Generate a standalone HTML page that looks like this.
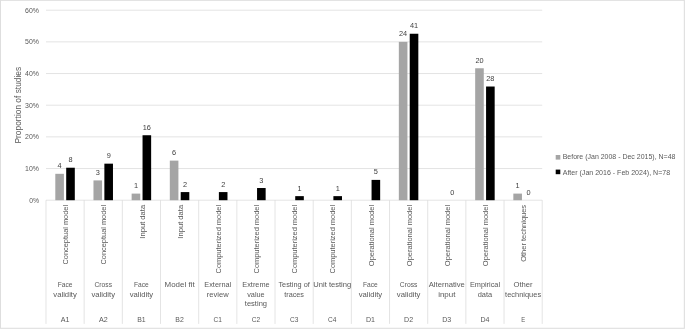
<!DOCTYPE html>
<html lang="en"><head><meta charset="utf-8"><title>Proportion of studies by validation technique</title>
<style>html,body{margin:0;padding:0;background:#fff}body{width:685px;height:329px;overflow:hidden}svg{display:block}text{font-family:"Liberation Sans",sans-serif}</style></head><body>
<svg width="685" height="329" viewBox="0 0 685 329">
<rect x="0" y="0" width="685" height="329" fill="#fff"/>
<rect x="0.45" y="0.3" width="683.9" height="328.0" fill="none" stroke="#dedede" stroke-width="1.1"/>
<g stroke="#d9d9d9" stroke-width="0.7" fill="none">
<line x1="46.00" y1="200.20" x2="542.21" y2="200.20"/>
<line x1="46.00" y1="168.53" x2="542.21" y2="168.53"/>
<line x1="46.00" y1="136.87" x2="542.21" y2="136.87"/>
<line x1="46.00" y1="105.20" x2="542.21" y2="105.20"/>
<line x1="46.00" y1="73.53" x2="542.21" y2="73.53"/>
<line x1="46.00" y1="41.87" x2="542.21" y2="41.87"/>
<line x1="46.00" y1="10.20" x2="542.21" y2="10.20"/>
<line x1="46.00" y1="200.20" x2="46.00" y2="323.9"/>
<line x1="84.17" y1="200.20" x2="84.17" y2="323.9"/>
<line x1="122.34" y1="200.20" x2="122.34" y2="323.9"/>
<line x1="160.51" y1="200.20" x2="160.51" y2="323.9"/>
<line x1="198.68" y1="200.20" x2="198.68" y2="323.9"/>
<line x1="236.85" y1="200.20" x2="236.85" y2="323.9"/>
<line x1="275.02" y1="200.20" x2="275.02" y2="323.9"/>
<line x1="313.19" y1="200.20" x2="313.19" y2="323.9"/>
<line x1="351.36" y1="200.20" x2="351.36" y2="323.9"/>
<line x1="389.53" y1="200.20" x2="389.53" y2="323.9"/>
<line x1="427.70" y1="200.20" x2="427.70" y2="323.9"/>
<line x1="465.87" y1="200.20" x2="465.87" y2="323.9"/>
<line x1="504.04" y1="200.20" x2="504.04" y2="323.9"/>
<line x1="542.21" y1="200.20" x2="542.21" y2="323.9"/>
</g>
<rect x="55.30" y="173.81" width="8.60" height="26.39" fill="#a5a5a5"/>
<rect x="66.20" y="167.72" width="8.60" height="32.48" fill="#000"/>
<rect x="93.47" y="180.41" width="8.60" height="19.79" fill="#a5a5a5"/>
<rect x="104.37" y="163.66" width="8.60" height="36.54" fill="#000"/>
<rect x="131.64" y="193.60" width="8.60" height="6.60" fill="#a5a5a5"/>
<rect x="142.54" y="135.24" width="8.60" height="64.96" fill="#000"/>
<rect x="169.81" y="160.62" width="8.60" height="39.58" fill="#a5a5a5"/>
<rect x="180.71" y="192.08" width="8.60" height="8.12" fill="#000"/>
<rect x="218.88" y="192.08" width="8.60" height="8.12" fill="#000"/>
<rect x="257.05" y="188.02" width="8.60" height="12.18" fill="#000"/>
<rect x="295.22" y="196.14" width="8.60" height="4.06" fill="#000"/>
<rect x="333.39" y="196.14" width="8.60" height="4.06" fill="#000"/>
<rect x="371.56" y="179.90" width="8.60" height="20.30" fill="#000"/>
<rect x="398.83" y="41.87" width="8.60" height="158.33" fill="#a5a5a5"/>
<rect x="409.73" y="33.75" width="8.60" height="166.45" fill="#000"/>
<rect x="475.17" y="68.26" width="8.60" height="131.94" fill="#a5a5a5"/>
<rect x="486.07" y="86.52" width="8.60" height="113.68" fill="#000"/>
<rect x="513.34" y="193.60" width="8.60" height="6.60" fill="#a5a5a5"/>
<text x="59.60" y="168.31" font-size="7.5" text-anchor="middle" fill="#404040" textLength="4.09" lengthAdjust="spacingAndGlyphs">4</text>
<text x="70.50" y="162.22" font-size="7.5" text-anchor="middle" fill="#404040" textLength="4.09" lengthAdjust="spacingAndGlyphs">8</text>
<text x="97.77" y="174.91" font-size="7.5" text-anchor="middle" fill="#404040" textLength="4.09" lengthAdjust="spacingAndGlyphs">3</text>
<text x="108.67" y="158.16" font-size="7.5" text-anchor="middle" fill="#404040" textLength="4.09" lengthAdjust="spacingAndGlyphs">9</text>
<text x="135.94" y="188.10" font-size="7.5" text-anchor="middle" fill="#404040" textLength="4.09" lengthAdjust="spacingAndGlyphs">1</text>
<text x="146.84" y="129.74" font-size="7.5" text-anchor="middle" fill="#404040" textLength="8.17" lengthAdjust="spacingAndGlyphs">16</text>
<text x="174.11" y="155.12" font-size="7.5" text-anchor="middle" fill="#404040" textLength="4.09" lengthAdjust="spacingAndGlyphs">6</text>
<text x="185.01" y="186.58" font-size="7.5" text-anchor="middle" fill="#404040" textLength="4.09" lengthAdjust="spacingAndGlyphs">2</text>
<text x="223.18" y="186.58" font-size="7.5" text-anchor="middle" fill="#404040" textLength="4.09" lengthAdjust="spacingAndGlyphs">2</text>
<text x="261.35" y="182.52" font-size="7.5" text-anchor="middle" fill="#404040" textLength="4.09" lengthAdjust="spacingAndGlyphs">3</text>
<text x="299.52" y="190.64" font-size="7.5" text-anchor="middle" fill="#404040" textLength="4.09" lengthAdjust="spacingAndGlyphs">1</text>
<text x="337.69" y="190.64" font-size="7.5" text-anchor="middle" fill="#404040" textLength="4.09" lengthAdjust="spacingAndGlyphs">1</text>
<text x="375.86" y="174.40" font-size="7.5" text-anchor="middle" fill="#404040" textLength="4.09" lengthAdjust="spacingAndGlyphs">5</text>
<text x="403.13" y="36.37" font-size="7.5" text-anchor="middle" fill="#404040" textLength="8.17" lengthAdjust="spacingAndGlyphs">24</text>
<text x="414.03" y="28.25" font-size="7.5" text-anchor="middle" fill="#404040" textLength="8.17" lengthAdjust="spacingAndGlyphs">41</text>
<text x="452.20" y="194.70" font-size="7.5" text-anchor="middle" fill="#404040" textLength="4.09" lengthAdjust="spacingAndGlyphs">0</text>
<text x="479.47" y="62.76" font-size="7.5" text-anchor="middle" fill="#404040" textLength="8.17" lengthAdjust="spacingAndGlyphs">20</text>
<text x="490.37" y="81.02" font-size="7.5" text-anchor="middle" fill="#404040" textLength="8.17" lengthAdjust="spacingAndGlyphs">28</text>
<text x="517.64" y="188.10" font-size="7.5" text-anchor="middle" fill="#404040" textLength="4.09" lengthAdjust="spacingAndGlyphs">1</text>
<text x="528.54" y="194.70" font-size="7.5" text-anchor="middle" fill="#404040" textLength="4.09" lengthAdjust="spacingAndGlyphs">0</text>
<text x="39.00" y="202.55" font-size="7.25" text-anchor="end" fill="#595959" textLength="9.85" lengthAdjust="spacingAndGlyphs">0%</text>
<text x="39.00" y="170.88" font-size="7.25" text-anchor="end" fill="#595959" textLength="13.93" lengthAdjust="spacingAndGlyphs">10%</text>
<text x="39.00" y="139.22" font-size="7.25" text-anchor="end" fill="#595959" textLength="13.93" lengthAdjust="spacingAndGlyphs">20%</text>
<text x="39.00" y="107.55" font-size="7.25" text-anchor="end" fill="#595959" textLength="13.93" lengthAdjust="spacingAndGlyphs">30%</text>
<text x="39.00" y="75.88" font-size="7.25" text-anchor="end" fill="#595959" textLength="13.93" lengthAdjust="spacingAndGlyphs">40%</text>
<text x="39.00" y="44.22" font-size="7.25" text-anchor="end" fill="#595959" textLength="13.93" lengthAdjust="spacingAndGlyphs">50%</text>
<text x="39.00" y="12.55" font-size="7.25" text-anchor="end" fill="#595959" textLength="13.93" lengthAdjust="spacingAndGlyphs">60%</text>
<text transform="translate(20.7,105.2) rotate(-90)" font-size="8.9" text-anchor="middle" fill="#595959" textLength="76.66" lengthAdjust="spacingAndGlyphs">Proportion of studies</text>
<text transform="translate(68.29,204.9) rotate(-90)" font-size="7.7" text-anchor="end" fill="#595959" textLength="59.65" lengthAdjust="spacingAndGlyphs">Conceptual model</text>
<text x="65.09" y="287.20" font-size="7.25" text-anchor="middle" fill="#595959" textLength="14.77" lengthAdjust="spacingAndGlyphs">Face</text>
<text x="65.09" y="296.75" font-size="7.25" text-anchor="middle" fill="#595959" textLength="23.52" lengthAdjust="spacingAndGlyphs">validity</text>
<text x="65.09" y="321.90" font-size="7.25" text-anchor="middle" fill="#595959" textLength="8.75" lengthAdjust="spacingAndGlyphs">A1</text>
<text transform="translate(106.45,204.9) rotate(-90)" font-size="7.7" text-anchor="end" fill="#595959" textLength="59.65" lengthAdjust="spacingAndGlyphs">Conceptual model</text>
<text x="103.25" y="287.20" font-size="7.25" text-anchor="middle" fill="#595959" textLength="17.53" lengthAdjust="spacingAndGlyphs">Cross</text>
<text x="103.25" y="296.75" font-size="7.25" text-anchor="middle" fill="#595959" textLength="23.52" lengthAdjust="spacingAndGlyphs">validity</text>
<text x="103.25" y="321.90" font-size="7.25" text-anchor="middle" fill="#595959" textLength="8.75" lengthAdjust="spacingAndGlyphs">A2</text>
<text transform="translate(144.62,204.9) rotate(-90)" font-size="7.7" text-anchor="end" fill="#595959" textLength="33.74" lengthAdjust="spacingAndGlyphs">Input data</text>
<text x="141.43" y="287.20" font-size="7.25" text-anchor="middle" fill="#595959" textLength="14.77" lengthAdjust="spacingAndGlyphs">Face</text>
<text x="141.43" y="296.75" font-size="7.25" text-anchor="middle" fill="#595959" textLength="23.52" lengthAdjust="spacingAndGlyphs">validity</text>
<text x="141.43" y="321.90" font-size="7.25" text-anchor="middle" fill="#595959" textLength="8.47" lengthAdjust="spacingAndGlyphs">B1</text>
<text transform="translate(182.79,204.9) rotate(-90)" font-size="7.7" text-anchor="end" fill="#595959" textLength="33.74" lengthAdjust="spacingAndGlyphs">Input data</text>
<text x="179.59" y="287.20" font-size="7.25" text-anchor="middle" fill="#595959" textLength="30.02" lengthAdjust="spacingAndGlyphs">Model fit</text>
<text x="179.59" y="321.90" font-size="7.25" text-anchor="middle" fill="#595959" textLength="8.47" lengthAdjust="spacingAndGlyphs">B2</text>
<text transform="translate(220.97,204.9) rotate(-90)" font-size="7.7" text-anchor="end" fill="#595959" textLength="68.59" lengthAdjust="spacingAndGlyphs">Computerized model</text>
<text x="217.77" y="287.20" font-size="7.25" text-anchor="middle" fill="#595959" textLength="26.83" lengthAdjust="spacingAndGlyphs">External</text>
<text x="217.77" y="296.75" font-size="7.25" text-anchor="middle" fill="#595959" textLength="21.90" lengthAdjust="spacingAndGlyphs">review</text>
<text x="217.77" y="321.90" font-size="7.25" text-anchor="middle" fill="#595959" textLength="8.38" lengthAdjust="spacingAndGlyphs">C1</text>
<text transform="translate(259.13,204.9) rotate(-90)" font-size="7.7" text-anchor="end" fill="#595959" textLength="68.59" lengthAdjust="spacingAndGlyphs">Computerized model</text>
<text x="255.94" y="287.20" font-size="7.25" text-anchor="middle" fill="#595959" textLength="27.31" lengthAdjust="spacingAndGlyphs">Extreme</text>
<text x="255.94" y="296.75" font-size="7.25" text-anchor="middle" fill="#595959" textLength="17.48" lengthAdjust="spacingAndGlyphs">value</text>
<text x="255.94" y="306.30" font-size="7.25" text-anchor="middle" fill="#595959" textLength="22.20" lengthAdjust="spacingAndGlyphs">testing</text>
<text x="255.94" y="321.90" font-size="7.25" text-anchor="middle" fill="#595959" textLength="8.38" lengthAdjust="spacingAndGlyphs">C2</text>
<text transform="translate(297.31,204.9) rotate(-90)" font-size="7.7" text-anchor="end" fill="#595959" textLength="68.59" lengthAdjust="spacingAndGlyphs">Computerized model</text>
<text x="294.11" y="287.20" font-size="7.25" text-anchor="middle" fill="#595959" textLength="31.33" lengthAdjust="spacingAndGlyphs">Testing of</text>
<text x="294.11" y="296.75" font-size="7.25" text-anchor="middle" fill="#595959" textLength="19.78" lengthAdjust="spacingAndGlyphs">traces</text>
<text x="294.11" y="321.90" font-size="7.25" text-anchor="middle" fill="#595959" textLength="8.38" lengthAdjust="spacingAndGlyphs">C3</text>
<text transform="translate(335.48,204.9) rotate(-90)" font-size="7.7" text-anchor="end" fill="#595959" textLength="68.59" lengthAdjust="spacingAndGlyphs">Computerized model</text>
<text x="332.28" y="287.20" font-size="7.25" text-anchor="middle" fill="#595959" textLength="37.98" lengthAdjust="spacingAndGlyphs">Unit testing</text>
<text x="332.28" y="321.90" font-size="7.25" text-anchor="middle" fill="#595959" textLength="8.38" lengthAdjust="spacingAndGlyphs">C4</text>
<text transform="translate(373.64,204.9) rotate(-90)" font-size="7.7" text-anchor="end" fill="#595959" textLength="61.30" lengthAdjust="spacingAndGlyphs">Operational model</text>
<text x="370.44" y="287.20" font-size="7.25" text-anchor="middle" fill="#595959" textLength="14.77" lengthAdjust="spacingAndGlyphs">Face</text>
<text x="370.44" y="296.75" font-size="7.25" text-anchor="middle" fill="#595959" textLength="23.52" lengthAdjust="spacingAndGlyphs">validity</text>
<text x="370.44" y="321.90" font-size="7.25" text-anchor="middle" fill="#595959" textLength="9.04" lengthAdjust="spacingAndGlyphs">D1</text>
<text transform="translate(411.81,204.9) rotate(-90)" font-size="7.7" text-anchor="end" fill="#595959" textLength="61.30" lengthAdjust="spacingAndGlyphs">Operational model</text>
<text x="408.62" y="287.20" font-size="7.25" text-anchor="middle" fill="#595959" textLength="17.53" lengthAdjust="spacingAndGlyphs">Cross</text>
<text x="408.62" y="296.75" font-size="7.25" text-anchor="middle" fill="#595959" textLength="23.52" lengthAdjust="spacingAndGlyphs">validity</text>
<text x="408.62" y="321.90" font-size="7.25" text-anchor="middle" fill="#595959" textLength="9.04" lengthAdjust="spacingAndGlyphs">D2</text>
<text transform="translate(449.99,204.9) rotate(-90)" font-size="7.7" text-anchor="end" fill="#595959" textLength="61.30" lengthAdjust="spacingAndGlyphs">Operational model</text>
<text x="446.79" y="287.20" font-size="7.25" text-anchor="middle" fill="#595959" textLength="36.03" lengthAdjust="spacingAndGlyphs">Alternative</text>
<text x="446.79" y="296.75" font-size="7.25" text-anchor="middle" fill="#595959" textLength="17.25" lengthAdjust="spacingAndGlyphs">input</text>
<text x="446.79" y="321.90" font-size="7.25" text-anchor="middle" fill="#595959" textLength="9.04" lengthAdjust="spacingAndGlyphs">D3</text>
<text transform="translate(488.16,204.9) rotate(-90)" font-size="7.7" text-anchor="end" fill="#595959" textLength="61.30" lengthAdjust="spacingAndGlyphs">Operational model</text>
<text x="484.96" y="287.20" font-size="7.25" text-anchor="middle" fill="#595959" textLength="30.17" lengthAdjust="spacingAndGlyphs">Empirical</text>
<text x="484.96" y="296.75" font-size="7.25" text-anchor="middle" fill="#595959" textLength="14.48" lengthAdjust="spacingAndGlyphs">data</text>
<text x="484.96" y="321.90" font-size="7.25" text-anchor="middle" fill="#595959" textLength="9.04" lengthAdjust="spacingAndGlyphs">D4</text>
<text transform="translate(526.33,204.9) rotate(-90)" font-size="7.7" text-anchor="end" fill="#595959" textLength="56.90" lengthAdjust="spacingAndGlyphs">Other techniques</text>
<text x="523.12" y="287.20" font-size="7.25" text-anchor="middle" fill="#595959" textLength="19.09" lengthAdjust="spacingAndGlyphs">Other</text>
<text x="523.12" y="296.75" font-size="7.25" text-anchor="middle" fill="#595959" textLength="35.98" lengthAdjust="spacingAndGlyphs">techniques</text>
<text x="523.12" y="321.90" font-size="7.25" text-anchor="middle" fill="#595959" textLength="3.94" lengthAdjust="spacingAndGlyphs">E</text>
<rect x="555.7" y="155" width="4.6" height="4.6" fill="#a5a5a5"/>
<rect x="555.7" y="169.6" width="4.6" height="4.6" fill="#000"/>
<text x="562.70" y="159.30" font-size="7.25" text-anchor="start" fill="#595959" textLength="112.71" lengthAdjust="spacingAndGlyphs">Before (Jan 2008 - Dec 2015), N=48</text>
<text x="562.70" y="174.80" font-size="7.25" text-anchor="start" fill="#595959" textLength="107.46" lengthAdjust="spacingAndGlyphs">After (Jan 2016 - Feb 2024), N=78</text>
</svg></body></html>
